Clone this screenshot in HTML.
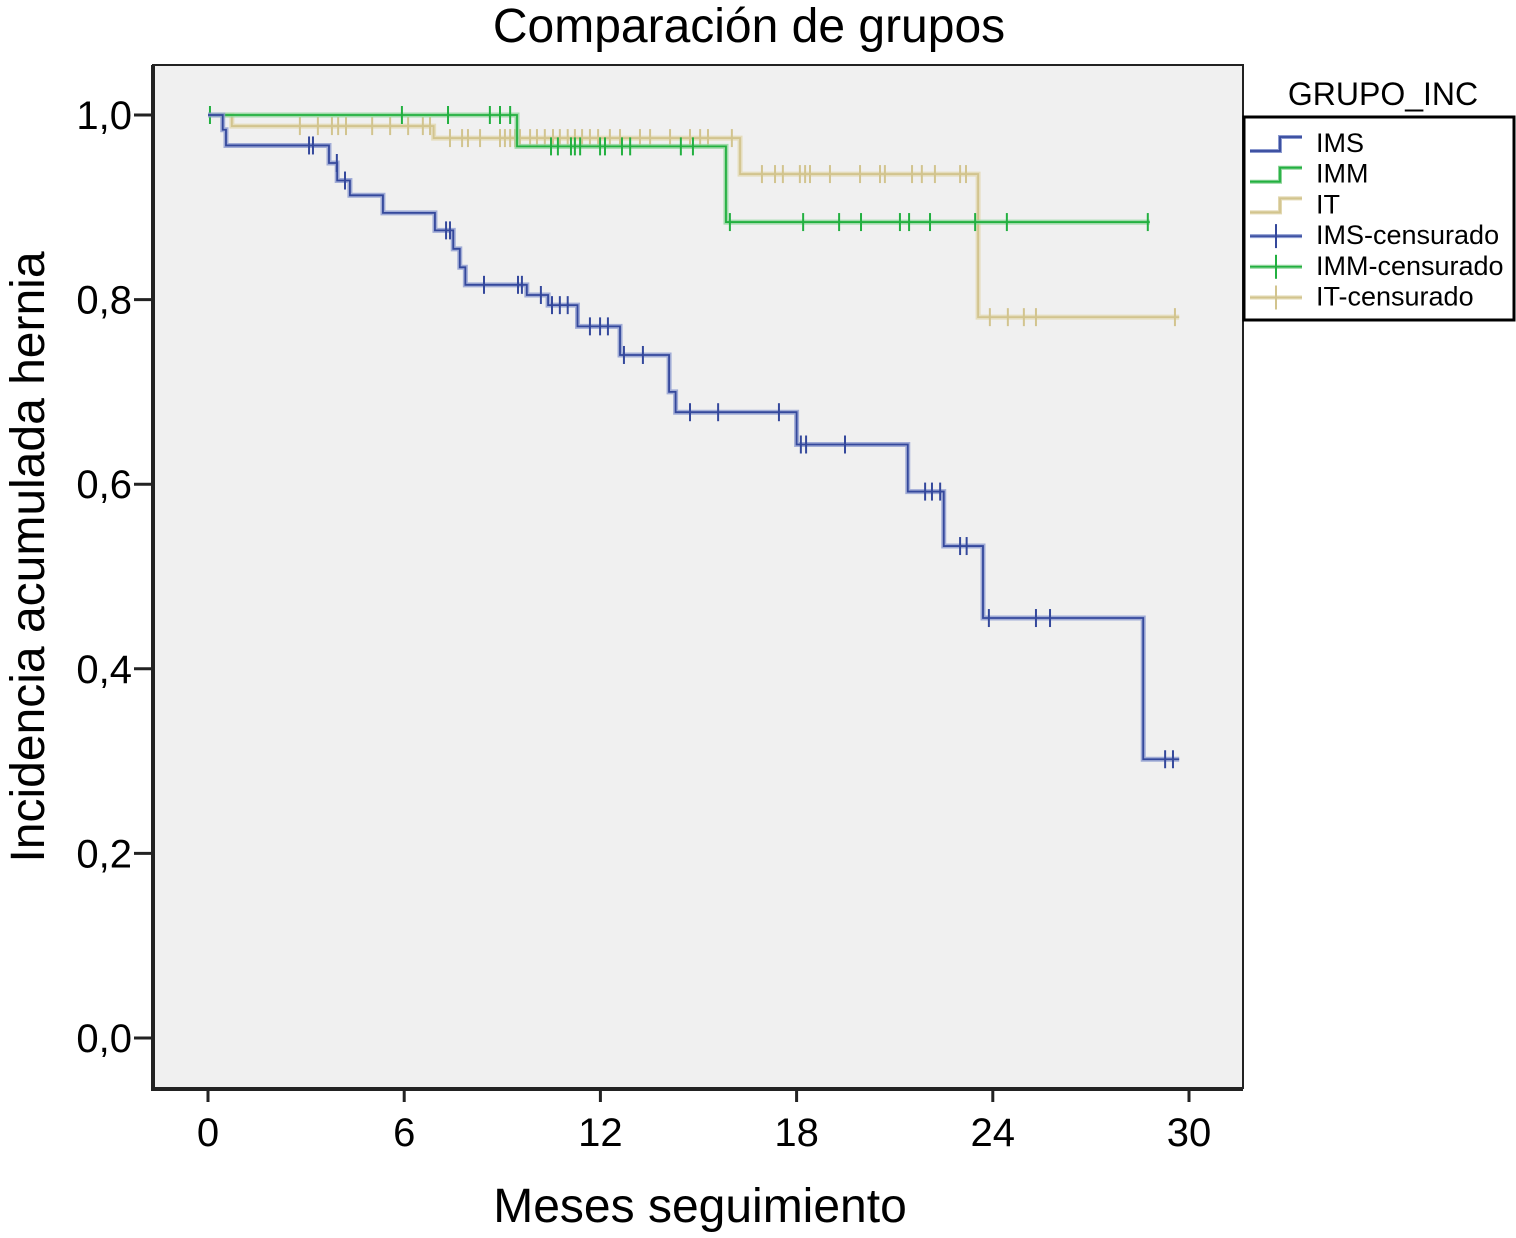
<!DOCTYPE html>
<html><head><meta charset="utf-8"><style>
body{margin:0;background:#fff;}
svg text{font-family:"Liberation Sans",Arial,sans-serif;fill:#000;}
</style></head><body>
<svg id="chart" width="1516" height="1233" xmlns="http://www.w3.org/2000/svg">
<text x="749" y="42" font-size="48" text-anchor="middle">Comparación de grupos</text>
<rect x="153" y="65" width="1090" height="1023" fill="#f0f0f0" stroke="#222" stroke-width="2"/>
<line x1="153" y1="65" x2="153" y2="1090" stroke="#222" stroke-width="4"/>
<line x1="151" y1="1089" x2="1243" y2="1089" stroke="#222" stroke-width="4"/>
<g id="axes"></g>
<g id="series"></g>
<text transform="translate(44,557) rotate(-90)" font-size="48" text-anchor="middle">Incidencia acumulada hernia</text>
<text x="700" y="1222" font-size="48" text-anchor="middle">Meses seguimiento</text>
<g>
<text x="1383" y="105" font-size="32" text-anchor="middle">GRUPO_INC</text>
<rect x="1244" y="117" width="270" height="203" fill="#fff" stroke="#000" stroke-width="3"/>
<g id="legend-items"></g>
</g>
</svg>
<script>
const xTicks=[0,6,12,18,24,30];
const yTicks=[0,0.2,0.4,0.6,0.8,1.0];
const yTickLabels=["0,0","0,2","0,4","0,6","0,8","1,0"];
const imsTimes=[0,0.45,0.55,3.7,3.95,4.34,5.35,6.94,7.5,7.7,7.87,9.75,10.4,11.3,12.6,14.1,14.3,18.0,21.4,22.5,23.7,28.6,29.7];
const imsVals=[1,0.984,0.967,0.948,0.929,0.913,0.894,0.875,0.855,0.835,0.816,0.805,0.794,0.771,0.740,0.70,0.678,0.643,0.592,0.533,0.455,0.302,0.302];
const imsCens=[3.09,3.21,3.94,4.19,7.28,7.4,8.44,9.48,9.6,10.18,10.52,10.76,11.0,11.68,11.99,12.23,12.72,13.3,14.74,15.6,17.46,18.13,18.29,19.48,21.93,22.14,22.39,23.0,23.2,23.88,25.32,25.75,29.27,29.51];
const immTimes=[0,9.45,15.84,28.8];
const immVals=[1,0.966,0.884,0.884];
const immCens=[0.06,5.93,7.34,8.62,8.93,9.24,10.49,10.7,11.1,11.22,11.38,11.99,12.14,12.66,12.91,14.46,14.83,15.96,18.2,19.3,19.97,21.16,21.44,22.08,23.46,24.43,28.74];
const itTimes=[0,0.73,6.9,16.27,23.55,29.7];
const itVals=[1,0.988,0.975,0.936,0.781,0.781];
const itCens=[2.81,3.36,3.79,3.98,4.22,5.02,5.57,6.12,6.57,6.79,7.4,7.77,7.95,8.32,8.93,9.08,9.24,9.39,9.54,9.85,10.06,10.3,10.55,10.76,11.0,11.22,11.44,11.68,11.93,12.29,12.6,13.21,13.52,14.13,14.74,15.05,15.29,16.02,16.94,17.34,17.58,18.1,18.26,18.41,19.02,19.94,20.55,20.7,21.53,21.83,22.23,23.0,23.18,23.91,24.46,24.95,25.32,29.57];
const NS="http://www.w3.org/2000/svg";
const X=m=>208+m*32.7, Y=v=>1038-v*923;
function mk(t,a,p){const e=document.createElementNS(NS,t);for(const k in a)e.setAttribute(k,a[k]);p.appendChild(e);return e;}
const ax=document.getElementById('axes');
xTicks.forEach(t=>{mk('line',{x1:X(t),x2:X(t),y1:1090,y2:1102,stroke:'#222','stroke-width':3},ax);
const tx=mk('text',{x:X(t),y:1146,'font-size':40,'text-anchor':'middle'},ax);tx.textContent=t;

});
yTicks.forEach((t,i)=>{mk('line',{x1:134,x2:153,y1:Y(t),y2:Y(t),stroke:'#222','stroke-width':3},ax);
const tx=mk('text',{x:132,y:Y(t)+14,'font-size':40,'text-anchor':'end'},ax);tx.textContent=yTickLabels[i];

});
const sg=document.getElementById('series');
function series(name,times,vals,cens,dark,light){
 let d='M'+X(times[0])+','+Y(vals[0]);
 for(let i=1;i<times.length;i++){d+=' H'+X(times[i])+' V'+Y(vals[i]);}
 const g=mk('g',{},sg);
 
 
 mk('path',{d:d,fill:'none',stroke:light,'stroke-width':5,opacity:0.8},g);
 mk('path',{d:d,fill:'none',stroke:dark,'stroke-width':1.8},g);
 cens.forEach(c=>{let v=vals[0];for(let i=0;i<times.length;i++){if(times[i]<=c)v=vals[i];}
  const l=mk('line',{x1:X(c),x2:X(c),y1:Y(v)-9,y2:Y(v)+9,stroke:dark,'stroke-width':2},g);
  
  });
}
series('it',itTimes,itVals,itCens,'#d2c48e','#e2d8b0');
series('imm',immTimes,immVals,immCens,'#22b040','#8fd49a');
series('ims',imsTimes,imsVals,imsCens,'#34489c','#8d9bd0');
const lg=document.getElementById('legend-items');
const items=[['IMS','#34489c','#8d9bd0',0],['IMM','#22b040','#8fd49a',0],['IT','#d2c48e','#e2d8b0',0],['IMS-censurado','#34489c','#8d9bd0',1],['IMM-censurado','#22b040','#8fd49a',1],['IT-censurado','#d2c48e','#e2d8b0',1]];
items.forEach((it,i)=>{const y=143+i*30.7;const g=mk('g',{},lg);
 
 
 if(!it[3]){const d='M1250,'+(y+8)+' H1280 V'+(y-6)+' H1302';
  mk('path',{d:d,fill:'none',stroke:it[2],'stroke-width':4},g);mk('path',{d:d,fill:'none',stroke:it[1],'stroke-width':1.8},g);}
 else{mk('line',{x1:1250,x2:1302,y1:y+1,y2:y+1,stroke:it[2],'stroke-width':4},g);mk('line',{x1:1250,x2:1302,y1:y+1,y2:y+1,stroke:it[1],'stroke-width':1.5},g);
  mk('line',{x1:1276,x2:1276,y1:y-11,y2:y+13,stroke:it[1],'stroke-width':2},g);}
 const t=mk('text',{x:1316,y:y+9,'font-size':27},g);t.textContent=it[0];});
</script>
</body></html>
